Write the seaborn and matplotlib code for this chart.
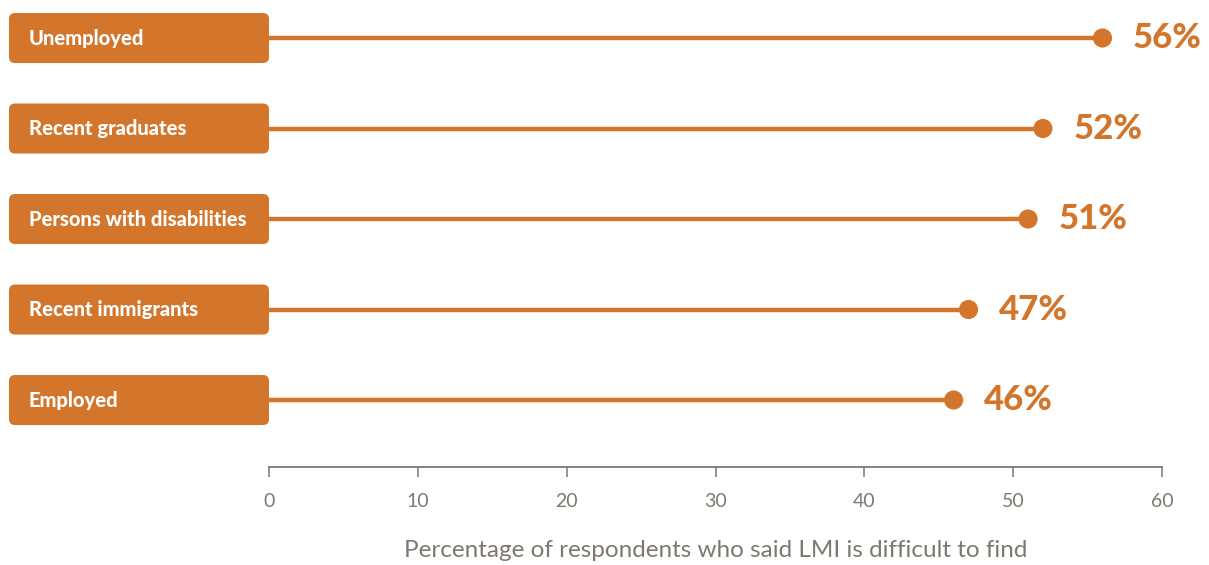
import matplotlib.pyplot as plt
import seaborn as sns
import pandas as pd
from matplotlib.patches import FancyBboxPatch

sns.set_theme(style="white")
plt.rcParams['font.family'] = ['Lato', 'DejaVu Sans']

# data
groups = ['Unemployed', 'Recent graduates', 'Persons with disabilities',
          'Recent immigrants', 'Employed']
pct = [56, 52, 51, 47, 46]
ticks = [0, 10, 20, 30, 40, 50, 60]
xlabel = 'Percentage of respondents who said LMI is difficult to find'

orange = '#D3752A'
grey = '#7d7870'

df = pd.DataFrame({'group': groups, 'pct': pct, 'row': range(len(groups))})

fig = plt.figure(figsize=(12.09, 5.65), dpi=100)
ax = fig.add_axes([269 / 1209, 98 / 565, 893 / 1209, 467 / 565])

# stems + dots
ax.hlines(df['row'], 0, df['pct'], color=orange, lw=3.2, zorder=2, clip_on=False)
sns.scatterplot(data=df, x='pct', y='row', color=orange, s=190, edgecolor='none',
                ax=ax, zorder=3, clip_on=False, legend=False)

for _, r in df.iterrows():
    ax.annotate(f"{r['pct']}%", (r['pct'], r['row']), xytext=(22, 0),
                textcoords='offset points', ha='left', va='center',
                fontsize=25, fontweight='black', color=orange)

ax.set_xlim(0, 60)
ax.set_ylim(4.74, -0.42)
ax.set_xticks(ticks)
ax.set_yticks([])
ax.set_ylabel('')
ax.set_xlabel(xlabel, fontsize=17.5, color=grey, labelpad=22)
ax.tick_params(axis='x', direction='out', length=7.5, width=1.1, color=grey,
               labelcolor=grey, labelsize=14, pad=11, bottom=True)
for s in ['top', 'left', 'right']:
    ax.spines[s].set_visible(False)
ax.spines['bottom'].set_color(grey)
ax.spines['bottom'].set_linewidth(1.3)
ax.set_facecolor('none')

# category boxes drawn in pixel space, aligned to data rows
lab = fig.add_axes([0, 0, 1, 1], zorder=-1)
lab.set_xlim(0, 1209)
lab.set_ylim(0, 565)
lab.axis('off')
fig.canvas.draw()
for i, g in enumerate(groups):
    yc = ax.transData.transform((0, i))[1]
    lab.add_patch(FancyBboxPatch((9, yc - 25), 260, 50,
                                 boxstyle='round,pad=0,rounding_size=6',
                                 fc=orange, ec='none'))
    lab.text(29, yc, g, ha='left', va='center', fontsize=14.5,
             fontweight='black', color='white')

fig.savefig('out.png', dpi=100)
